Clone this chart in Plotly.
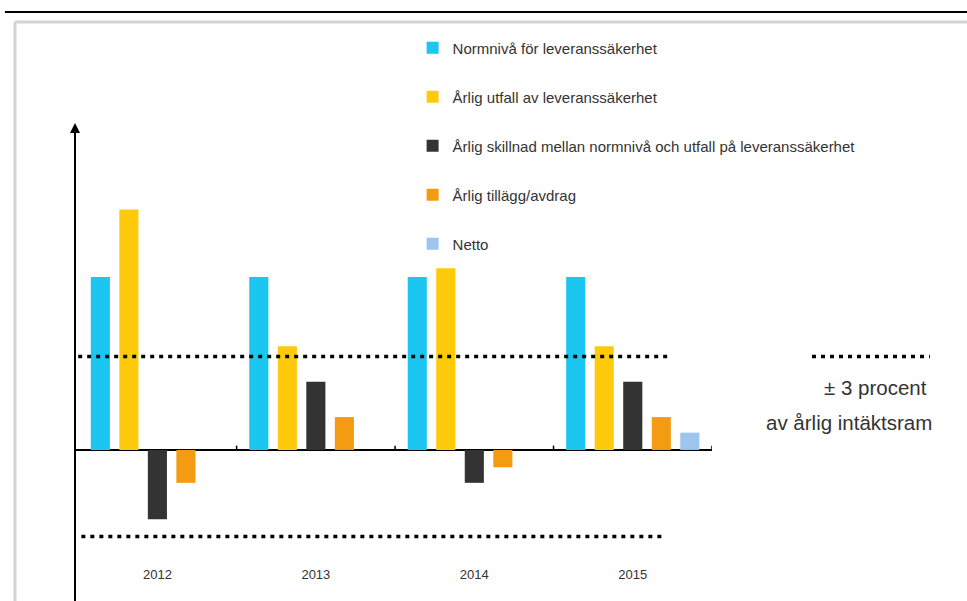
import plotly.graph_objects as go

# ---- data (arbitrary units) ----
categories = ["2012", "2013", "2014", "2015"]
normniva = [10.0, 10.0, 10.0, 10.0]
utfall = [13.9, 6.0, 10.5, 6.0]
skillnad = [-4.0, 3.95, -1.9, 3.95]
tillagg = [-1.9, 1.9, -1.0, 1.9]
netto = [None, None, None, 1.0]
band_upper = 5.4
band_lower = -5.0

series_names = [
    "Normnivå för leveranssäkerhet",
    "Årlig utfall av leveranssäkerhet",
    "Årlig skillnad mellan normnivå och utfall på leveranssäkerhet",
    "Årlig tillägg/avdrag",
    "Netto",
]
series_values = [normniva, utfall, skillnad, tillagg, netto]
series_colors = ["#1BC6F0", "#FFC90C", "#333333", "#F39C12", "#9CC6EE"]

FONT = "Liberation Sans, Arial, sans-serif"

fig = go.Figure()
for i, (name, vals, col) in enumerate(zip(series_names, series_values, series_colors)):
    fig.add_trace(go.Bar(
        x=categories, y=vals, name=name, marker_color=col,
        marker_line_width=0, legendgroup=f"g{i}",
    ))

dot = dict(color="black", width=3.5, dash="4px,5px")
shapes = [
    # threshold dotted lines
    dict(type="line", xref="x", yref="y", x0=-0.5, x1=3.22, y0=band_upper, y1=band_upper, line=dot),
    dict(type="line", xref="x", yref="y", x0=-0.48, x1=3.2, y0=band_lower, y1=band_lower, line=dot),
    # dotted key line on the right
    dict(type="line", xref="paper", yref="y", x0=1.157, x1=1.342, y0=band_upper, y1=band_upper, line=dot),
    # y axis line (extends below the plot area)
    dict(type="line", xref="paper", yref="paper", x0=0, x1=0, y0=-0.09, y1=0.99,
         line=dict(color="black", width=2)),
    # frame decorations
    dict(type="line", xref="paper", yref="paper", x0=-0.11, x1=1.41, y0=1.2511, y1=1.2511,
         line=dict(color="black", width=2)),
    dict(type="line", xref="paper", yref="paper", x0=-0.0942, x1=1.41, y0=1.2285, y1=1.2285,
         line=dict(color="#d4d4d4", width=3)),
    dict(type="line", xref="paper", yref="paper", x0=-0.0942, x1=-0.0942, y0=-0.09, y1=1.2285,
         line=dict(color="#d4d4d4", width=3)),
]
# small ticks on the zero line between categories
for k in range(len(categories)):
    shapes.append(dict(type="line", xref="x", yref="y", x0=k + 0.5, x1=k + 0.5, y0=0, y1=0.25,
                       line=dict(color="black", width=1.5)))

annotations = [
    dict(xref="paper", yref="paper", x=0, y=1, ax=0, ay=28, text="", showarrow=True,
         arrowhead=2, arrowsize=1, arrowwidth=2, arrowcolor="black"),
    dict(xref="paper", yref="paper", x=1.341, y=0.4005, xanchor="right", yanchor="middle",
         text="± 3 procent", showarrow=False, font=dict(family=FONT, size=20.5, color="#333333")),
    dict(xref="paper", yref="paper", x=1.348, y=0.3213, xanchor="right", yanchor="middle",
         text="av årlig intäktsram", showarrow=False, font=dict(family=FONT, size=20.5, color="#333333")),
]

fig.update_layout(
    width=967, height=601,
    margin=dict(l=75, r=255, t=123, b=36),
    paper_bgcolor="white", plot_bgcolor="white",
    barmode="group", bargap=0.1, bargroupgap=0.33,
    font=dict(family=FONT, size=13, color="#333333"),
    showlegend=True,
    legend=dict(
        x=0.53, y=1.207, xanchor="left", yanchor="top",
        font=dict(family=FONT, size=15, color="#333333"),
        tracegroupgap=26.5, bgcolor="rgba(0,0,0,0)", traceorder="grouped",
    ),
    xaxis=dict(
        range=[-0.52, 3.5], showline=False, showgrid=False, zeroline=False,
        ticks="", tickfont=dict(family=FONT, size=13, color="#333333"),
    ),
    yaxis=dict(
        range=[-6.65, 18.9], showline=False,
        showgrid=False, zeroline=True, zerolinecolor="black", zerolinewidth=2,
        showticklabels=False, ticks="",
    ),
    shapes=shapes,
    annotations=annotations,
)

fig.write_html("out.html")
